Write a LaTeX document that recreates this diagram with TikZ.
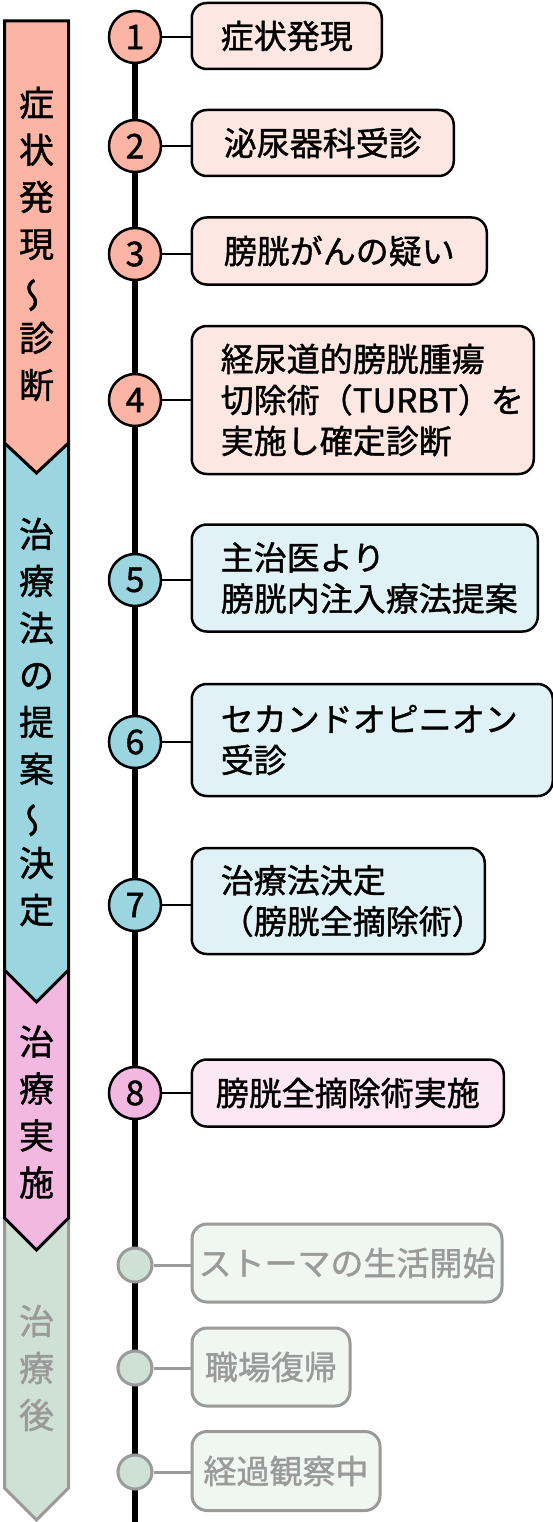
\documentclass[tikz,border=0pt]{standalone}
\usepackage{fontspec}
\setmainfont{Noto Sans CJK JP}[FakeBold=1.2]
\usepackage{graphicx}
\usetikzlibrary{backgrounds}
\definecolor{salmon}{HTML}{FCB4A4}
\definecolor{salmonlt}{HTML}{FDE7E2}
\definecolor{cyanb}{HTML}{9AD5E0}
\definecolor{cyanlt}{HTML}{E0F2F6}
\definecolor{pinkb}{HTML}{F2B8E0}
\definecolor{pinklt}{HTML}{FCE8F4}
\definecolor{sage}{HTML}{CFE1D5}
\definecolor{sagelt}{HTML}{F0F6F2}
\definecolor{greyln}{HTML}{9A9A9A}
\newcommand{\vwave}{\reflectbox{\rotatebox[origin=c]{-90}{～}}}
\begin{document}
\begin{tikzpicture}[x=1pt,y=-1pt,
  numc/.style={circle, draw=black, line width=2.5pt, minimum size=52pt, inner sep=0pt, font=\fontsize{34}{34}\selectfont},
  dotc/.style={circle, draw=greyln, fill=sage, line width=3pt, minimum size=34pt, inner sep=0pt},
  evbox/.style={draw=black, line width=2.5pt, rounded corners=15pt, anchor=west, inner sep=0pt, font=\fontsize{33}{41}\selectfont, align=center},
  evmulti/.style={evbox, align=left, inner xsep=29pt},
  grbox/.style={evbox, draw=greyln, fill=sagelt, text=greyln, line width=3pt},
  link/.style={line width=2.5pt},
  glink/.style={line width=3pt, draw=greyln},
  bandtxt/.style={font=\fontsize{35}{47}\selectfont, align=center, inner sep=0pt},
  bandline/.style={line width=3pt, line join=miter},
]
\useasboundingbox (0,0) rectangle (553,1522);

% phase bands
\def\L{4.5}\def\R{68.5}\def\C{36.5}
\fill[sage] (\L,1218) -- (\C,1250) -- (\R,1218) -- (\R,1488) -- (\C,1520) -- (\L,1488) -- cycle;
\draw[bandline, greyln] (\L,1218) -- (\L,1488) -- (\C,1520) -- (\R,1488) -- (\R,1218);
\fill[pinkb] (\L,970) -- (\C,1002) -- (\R,970) -- (\R,1218) -- (\C,1250) -- (\L,1218) -- cycle;
\draw[bandline] (\L,970) -- (\L,1218) -- (\C,1250) -- (\R,1218) -- (\R,970);
\fill[cyanb] (\L,443) -- (\C,473) -- (\R,443) -- (\R,970) -- (\C,1002) -- (\L,970) -- cycle;
\draw[bandline] (\L,443) -- (\L,970) -- (\C,1002) -- (\R,970) -- (\R,443);
\filldraw[bandline, fill=salmon] (\L,21) -- (\R,21) -- (\R,443) -- (\C,473) -- (\L,443) -- cycle;

\node[bandtxt] (p1) at (\C,244) {症\\状\\発\\現\\\vwave\\診\\断};
\node[bandtxt] (p2) at (\C,722) {治\\療\\法\\の\\提\\案\\\vwave\\決\\定};
\node[bandtxt] (p3) at (\C,1112) {治\\療\\実\\施};
\node[bandtxt, text=greyln] (p4) at (\C,1368) {治\\療\\後};

% milestones
\node[numc, fill=salmon] (c1) at (135,37) {1};
\node[numc, fill=salmon] (c2) at (135,146) {2};
\node[numc, fill=salmon] (c3) at (135,254) {3};
\node[numc, fill=salmon] (c4) at (135,400) {4};
\node[numc, fill=cyanb] (c5) at (135,580) {5};
\node[numc, fill=cyanb] (c6) at (135,742) {6};
\node[numc, fill=cyanb] (c7) at (135,905) {7};
\node[numc, fill=pinkb] (c8) at (135,1093) {8};
\node[dotc] (g1) at (135,1265) {};
\node[dotc] (g2) at (135,1368) {};
\node[dotc] (g3) at (135,1472) {};
\coordinate (tlend) at (135,1522);

\begin{scope}[on background layer]
\fill[white] (0,0) rectangle (553,1522);
\draw[line width=6pt] (c1.center) -- (tlend);
\end{scope}

% event boxes
\node[evbox, fill=salmonlt, minimum width=190pt, minimum height=66pt] (b1) at (190.5,36) {症状発現};
\node[evbox, fill=salmonlt, minimum width=262pt, minimum height=66pt] (b2) at (190.5,143) {泌尿器科受診};
\node[evbox, fill=salmonlt, minimum width=295pt, minimum height=67pt] (b3) at (190.5,251) {膀胱がんの疑い};
\node[evmulti, fill=salmonlt, text width=284pt, minimum height=148pt] (b4) at (190.5,400) {経尿道的膀胱腫瘍\\切除術（TURBT）を\\実施し確定診断};
\node[evmulti, fill=cyanlt, text width=288pt, minimum height=107pt] (b5) at (190.5,578) {主治医より\\膀胱内注入療法提案};
\node[evmulti, fill=cyanlt, text width=303pt, minimum height=112pt] (b6) at (190.5,740) {セカンドオピニオン\\受診};
\node[evmulti, fill=cyanlt, text width=235pt, minimum height=106pt] (b7) at (190.5,901) {治療法決定\\（膀胱全摘除術）};
\node[evbox, fill=pinklt, minimum width=312pt, minimum height=67pt] (b8) at (190.5,1093) {膀胱全摘除術実施};
\node[grbox, minimum width=310pt, minimum height=78pt] (b9) at (190.5,1263) {ストーマの生活開始};
\node[grbox, minimum width=158pt, minimum height=78pt] (b10) at (190.5,1367) {職場復帰};
\node[grbox, minimum width=188pt, minimum height=79pt] (b11) at (190.5,1471) {経過観察中};

% connectors
\foreach \i in {1,...,8}{
  \draw[link] (c\i.east) -- (c\i.east -| b\i.west);
}
\draw[glink] (g1.east) -- (g1.east -| b9.west);
\draw[glink] (g2.east) -- (g2.east -| b10.west);
\draw[glink] (g3.east) -- (g3.east -| b11.west);
\end{tikzpicture}
\end{document}
